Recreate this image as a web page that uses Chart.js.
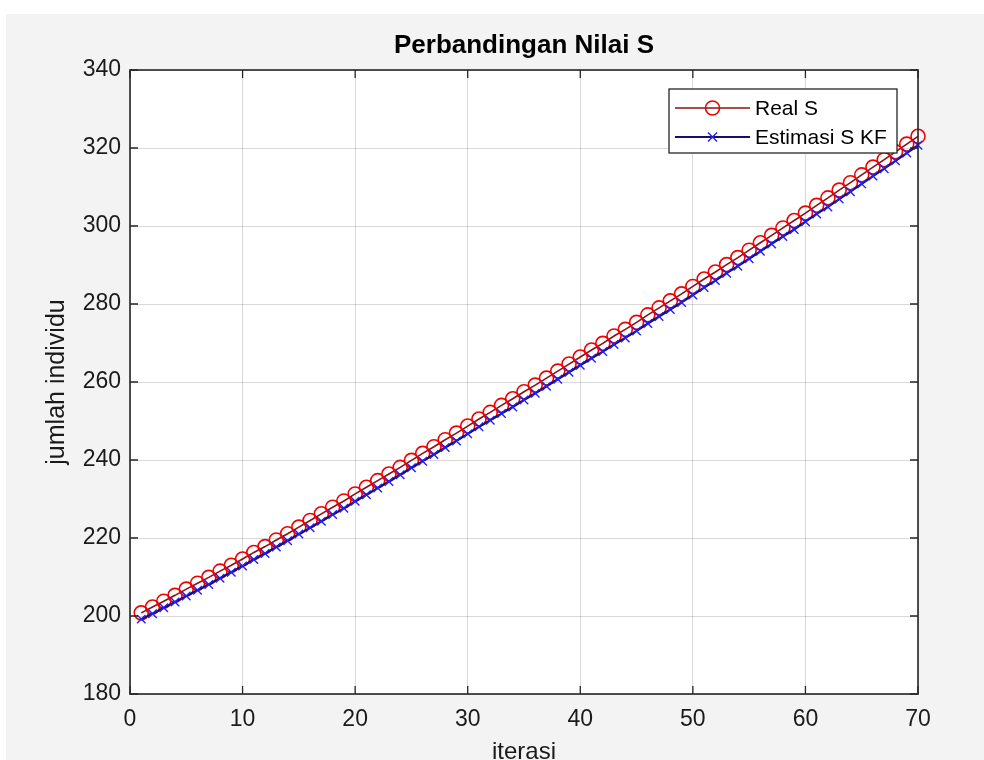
<!DOCTYPE html>
<html>
<head>
<meta charset="utf-8">
<script src="https://cdn.jsdelivr.net/npm/chart.js@4/dist/chart.umd.min.js"></script>
<style>
  body { margin: 0; background: #ffffff; }
  #panel { position: absolute; left: 6px; top: 14px; width: 978px; height: 746px; background: #f3f3f3; }
  canvas { display: block; }
</style>
</head>
<body>
<div id="panel"><canvas id="chartS" width="978" height="746"></canvas></div>
<script>
// data
const chartTitle = 'Perbandingan Nilai S';
const xLabel = 'iterasi';
const yLabel = 'jumlah individu';

const iterasi = [
  1, 2, 3, 4, 5, 6, 7, 8, 9, 10, 11, 12, 13, 14, 15, 16, 17, 18, 19, 20,
  21, 22, 23, 24, 25, 26, 27, 28, 29, 30, 31, 32, 33, 34, 35, 36, 37, 38, 39, 40,
  41, 42, 43, 44, 45, 46, 47, 48, 49, 50, 51, 52, 53, 54, 55, 56, 57, 58, 59, 60,
  61, 62, 63, 64, 65, 66, 67, 68, 69, 70
];

const realS = [
  200.8, 202.3, 203.8, 205.3, 206.9, 208.4, 209.9, 211.5, 213.0, 214.6,
  216.3, 217.8, 219.5, 221.1, 222.8, 224.5, 226.2, 227.9, 229.5, 231.3,
  233.0, 234.7, 236.4, 238.1, 239.9, 241.7, 243.4, 245.2, 246.9, 248.7,
  250.5, 252.2, 254.0, 255.7, 257.5, 259.2, 261.0, 262.8, 264.6, 266.4,
  268.2, 269.9, 271.8, 273.5, 275.3, 277.2, 279.0, 280.8, 282.6, 284.5,
  286.4, 288.2, 290.1, 291.9, 293.8, 295.7, 297.6, 299.5, 301.4, 303.3,
  305.3, 307.2, 309.2, 311.1, 313.1, 315.1, 317.0, 319.0, 321.0, 323.0
];

const estimasiS = [
  199.2, 200.6, 202.1, 203.6, 205.1, 206.6, 208.1, 209.7, 211.2, 212.8,
  214.5, 216.0, 217.7, 219.3, 221.0, 222.6, 224.3, 226.0, 227.6, 229.4,
  231.1, 232.8, 234.5, 236.2, 238.0, 239.7, 241.4, 243.2, 244.9, 246.7,
  248.5, 250.2, 251.9, 253.6, 255.4, 257.1, 258.9, 260.7, 262.5, 264.3,
  266.1, 267.8, 269.6, 271.3, 273.1, 275.0, 276.8, 278.6, 280.4, 282.3,
  284.2, 286.0, 287.9, 289.7, 291.6, 293.5, 295.4, 297.3, 299.1, 301.1,
  303.1, 304.9, 306.9, 308.8, 310.8, 312.8, 314.7, 316.7, 318.7, 320.7
];

const xTicks = [0, 10, 20, 30, 40, 50, 60, 70];
const yTicks = [180, 200, 220, 240, 260, 280, 300, 320, 340];

const FONT = '"Liberation Sans", Arial, Helvetica, sans-serif';
const TEXT = '#1a1a1a';

// plot background white, then axes box, inward ticks, titles and legend like MATLAB
const matlabLook = {
  id: 'matlabLook',
  beforeDraw(chart) {
    const { ctx, chartArea: a } = chart;
    ctx.save();
    ctx.fillStyle = '#ffffff';
    ctx.fillRect(a.left, a.top, a.right - a.left, a.bottom - a.top);
    ctx.restore();
  },
  afterDraw(chart) {
    const { ctx, chartArea: a, scales } = chart;
    ctx.save();

    // box
    ctx.strokeStyle = '#262626';
    ctx.lineWidth = 1.6;
    ctx.strokeRect(a.left, a.top, a.right - a.left, a.bottom - a.top);

    // inward ticks
    ctx.lineWidth = 1.3;
    ctx.beginPath();
    xTicks.forEach(v => {
      const x = scales.x.getPixelForValue(v);
      ctx.moveTo(x, a.bottom); ctx.lineTo(x, a.bottom - 8);
      ctx.moveTo(x, a.top); ctx.lineTo(x, a.top + 8);
    });
    yTicks.forEach(v => {
      const y = scales.y.getPixelForValue(v);
      ctx.moveTo(a.left, y); ctx.lineTo(a.left + 8, y);
      ctx.moveTo(a.right, y); ctx.lineTo(a.right - 8, y);
    });
    ctx.stroke();

    // title
    const cx = (a.left + a.right) / 2;
    ctx.fillStyle = '#000000';
    ctx.textAlign = 'center';
    ctx.textBaseline = 'middle';
    ctx.font = 'bold 26px ' + FONT;
    ctx.fillText(chartTitle, cx, a.top - 24);

    // axis labels
    ctx.fillStyle = TEXT;
    ctx.font = '24px ' + FONT;
    ctx.textBaseline = 'top';
    ctx.fillText(xLabel, cx, a.bottom + 46);

    ctx.save();
    ctx.translate(a.left - 73, (a.top + a.bottom) / 2);
    ctx.rotate(-Math.PI / 2);
    ctx.textBaseline = 'middle';
    ctx.font = '25px ' + FONT;
    ctx.fillText(yLabel, 0, 0);
    ctx.restore();

    // legend
    const w = 228, h = 64;
    const lx = a.right - 21 - w, ly = a.top + 19;
    ctx.fillStyle = '#ffffff';
    ctx.fillRect(lx, ly, w, h);
    ctx.strokeStyle = '#262626';
    ctx.lineWidth = 1.3;
    ctx.strokeRect(lx, ly, w, h);

    chart.data.datasets.forEach((ds, i) => {
      const y = ly + 19 + i * 29;
      const x0 = lx + 6, x1 = lx + 81, mx = (x0 + x1) / 2;
      ctx.strokeStyle = ds.borderColor;
      ctx.lineWidth = ds.borderWidth;
      ctx.beginPath();
      ctx.moveTo(x0, y); ctx.lineTo(x1, y);
      ctx.stroke();
      ctx.strokeStyle = ds.pointBorderColor;
      ctx.lineWidth = ds.pointBorderWidth;
      ctx.beginPath();
      if (ds.pointStyle === 'circle') {
        ctx.arc(mx, y, ds.pointRadius, 0, Math.PI * 2);
      } else {
        const r = ds.pointRadius * 0.75;
        ctx.moveTo(mx - r, y - r); ctx.lineTo(mx + r, y + r);
        ctx.moveTo(mx - r, y + r); ctx.lineTo(mx + r, y - r);
      }
      ctx.stroke();
      ctx.fillStyle = '#000000';
      ctx.font = '21px ' + FONT;
      ctx.textAlign = 'left';
      ctx.textBaseline = 'middle';
      ctx.fillText(ds.label, x1 + 5, y + 1);
    });

    ctx.restore();
  }
};

const ctx = document.getElementById('chartS').getContext('2d');
const chartS = new Chart(ctx, {
  type: 'line',
  data: {
    datasets: [
      {
        label: 'Real S',
        data: iterasi.map((x, i) => ({ x: x, y: realS[i] })),
        borderColor: '#8b1010',
        borderWidth: 1.6,
        pointStyle: 'circle',
        pointRadius: 7,
        pointBorderColor: '#f00000',
        pointBackgroundColor: 'rgba(0,0,0,0)',
        pointBorderWidth: 1.6,
        tension: 0,
        clip: false,
        order: 2
      },
      {
        label: 'Estimasi S KF',
        data: iterasi.map((x, i) => ({ x: x, y: estimasiS[i] })),
        borderColor: '#10106e',
        borderWidth: 2.2,
        pointStyle: 'crossRot',
        pointRadius: 6,
        pointBorderColor: '#1f1fff',
        pointBackgroundColor: 'rgba(0,0,0,0)',
        pointBorderWidth: 1.4,
        tension: 0,
        clip: false,
        order: 1
      }
    ]
  },
  options: {
    responsive: false,
    animation: false,
    layout: { padding: { left: 0, top: 56, right: 66, bottom: 0 } },
    plugins: {
      legend: { display: false },
      tooltip: { enabled: false }
    },
    scales: {
      x: {
        type: 'linear',
        min: 0,
        max: 70,
        afterFit: scale => { scale.height = 66; },
        afterBuildTicks: scale => { scale.ticks = xTicks.map(v => ({ value: v })); },
        ticks: { color: TEXT, font: { family: FONT, size: 23 }, padding: 12, maxRotation: 0 },
        grid: { color: 'rgba(0,0,0,0.15)', lineWidth: 1, drawTicks: false },
        border: { display: false }
      },
      y: {
        min: 180,
        max: 340,
        afterFit: scale => { scale.width = 124; },
        afterBuildTicks: scale => { scale.ticks = yTicks.map(v => ({ value: v })); },
        ticks: { color: TEXT, font: { family: FONT, size: 23 }, padding: 9 },
        grid: { color: 'rgba(0,0,0,0.15)', lineWidth: 1, drawTicks: false },
        border: { display: false }
      }
    }
  },
  plugins: [matlabLook]
});
</script>
</body>
</html>
